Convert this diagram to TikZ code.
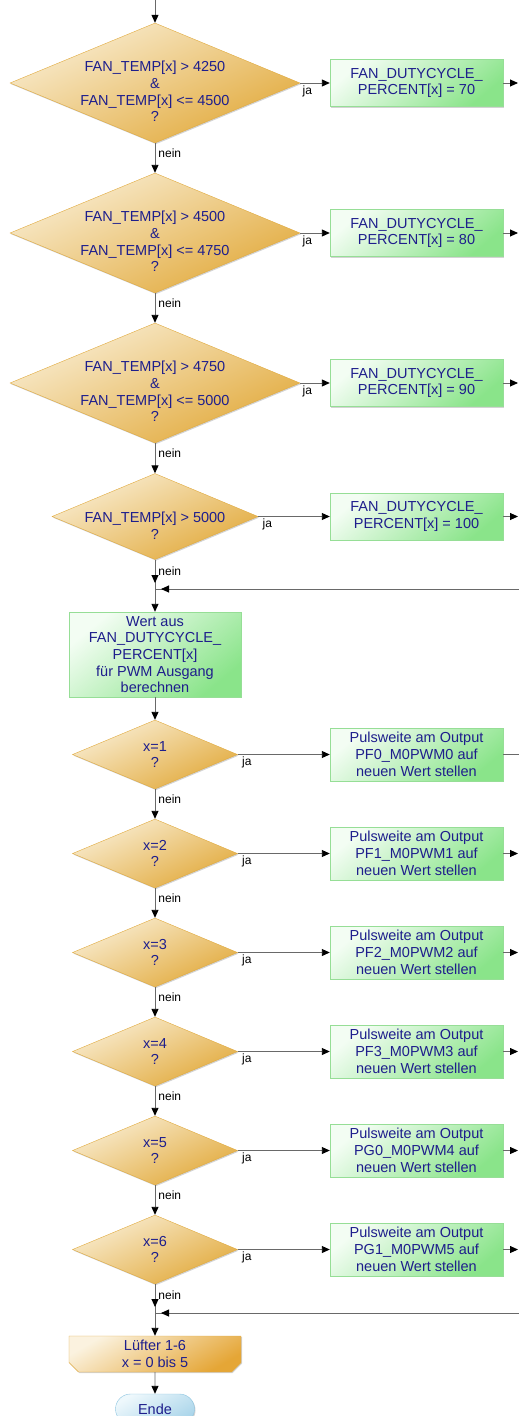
\documentclass[tikz,border=0pt]{standalone}
\usepackage{fontspec}
\setmainfont{Liberation Sans}
\usetikzlibrary{positioning,shapes.geometric,shapes.misc,arrows.meta,shadows}
\definecolor{decisionlight}{RGB}{249,237,210}
\definecolor{decisiondark}{RGB}{226,170,60}
\definecolor{decisionrule}{RGB}{224,170,62}
\definecolor{actionlight}{RGB}{243,253,243}
\definecolor{actiondark}{RGB}{138,228,138}
\definecolor{actionrule}{RGB}{150,222,150}
\definecolor{endlight}{RGB}{238,248,252}
\definecolor{enddark}{RGB}{170,213,234}
\definecolor{endrule}{RGB}{140,196,224}
\definecolor{navytext}{RGB}{30,30,140}
\definecolor{flowgray}{RGB}{105,105,105}

\begin{document}
\begin{tikzpicture}[x=1pt, y=-1pt,
        every node/.style={font=\fontsize{14.5}{16.7}\selectfont, text=navytext},
        shadowed/.style={drop shadow={shadow xshift=1pt, shadow yshift=-1.2pt, fill=black!50, opacity=0.35}},
        decision/.style={diamond, draw=decisionrule, inner sep=0pt, top color=decisionlight, bottom color=decisiondark, shading angle=25, shadowed},
        dtext/.style={align=center, inner sep=0pt},
        actionbox/.style={rectangle, draw=actionrule, align=center, inner sep=0pt, minimum width=173pt, top color=actionlight, bottom color=actiondark, shading angle=40, shadowed},
        loopend/.style={chamfered rectangle, chamfered rectangle corners={south west,south east}, chamfered rectangle xsep=6pt, draw=decisionrule, align=center, inner sep=0pt, minimum width=172pt, minimum height=36pt, top color=decisionlight!70!white, bottom color=decisiondark!90!orange, shading angle=30, shadowed},
        endnode/.style={rounded rectangle, draw=endrule, inner sep=0pt, minimum width=79pt, minimum height=30pt, top color=endlight, bottom color=enddark, shading angle=30, shadowed},
        line/.style={draw=flowgray, line width=0.9pt},
        flow/.style={line, -{Triangle[length=8pt, width=7pt, color=black]}},
        answer/.style={font=\fontsize{12}{14}\selectfont, text=black, inner sep=2pt}]
        \useasboundingbox (0,0) rectangle (519,1416);

        % temperature thresholds
        \coordinate (start) at (155,0);
        \node[decision, minimum width=290pt, minimum height=120pt, label={[dtext, yshift=-8.5pt]center:{FAN\_TEMP[x] > 4250\\\&\\FAN\_TEMP[x] <= 4500\\?}}] (tempone) at (155,83) {};
        \node[decision, minimum width=290pt, minimum height=120pt, label={[dtext, yshift=-8.5pt]center:{FAN\_TEMP[x] > 4500\\\&\\FAN\_TEMP[x] <= 4750\\?}}] (temptwo) at (155,233) {};
        \node[decision, minimum width=290pt, minimum height=120pt, label={[dtext, yshift=-8.5pt]center:{FAN\_TEMP[x] > 4750\\\&\\FAN\_TEMP[x] <= 5000\\?}}] (tempthree) at (155,383) {};
        \node[decision, minimum width=206pt, minimum height=86pt, label={[dtext, yshift=-9.5pt]center:{FAN\_TEMP[x] > 5000\\?}}] (tempfour) at (155,516.5) {};

        \node[actionbox, minimum height=47pt] (dutyone) at (416.5,83) {FAN\_DUTYCYCLE\_\\PERCENT[x] = 70};
        \node[actionbox, minimum height=47pt] (dutytwo) at (416.5,233) {FAN\_DUTYCYCLE\_\\PERCENT[x] = 80};
        \node[actionbox, minimum height=47pt] (dutythree) at (416.5,383) {FAN\_DUTYCYCLE\_\\PERCENT[x] = 90};
        \node[actionbox, minimum height=47pt] (dutyfour) at (416.5,516.5) {FAN\_DUTYCYCLE\_\\PERCENT[x] = 100};

        \coordinate (dutyoneout) at (518,83);
        \coordinate (dutytwoout) at (518,233);
        \coordinate (dutythreeout) at (518,383);
        \coordinate (dutyfourout) at (518,516.5);
        \coordinate (dutyjoin) at (155,589);
        \coordinate (dutyback) at (519,589);

        \node[actionbox, minimum width=172pt, minimum height=85pt] (pwmcalc) at (155,654.5) {Wert aus\\FAN\_DUTYCYCLE\_\\PERCENT[x]\\für PWM Ausgang\\berechnen};

        % one output per fan
        \node[decision, minimum width=165pt, minimum height=69pt, label={[dtext]center:{x=1\\?}}] (fanone) at (155,754.5) {};
        \node[decision, minimum width=165pt, minimum height=69pt, label={[dtext]center:{x=2\\?}}] (fantwo) at (155,853.5) {};
        \node[decision, minimum width=165pt, minimum height=69pt, label={[dtext]center:{x=3\\?}}] (fanthree) at (155,952.5) {};
        \node[decision, minimum width=165pt, minimum height=69pt, label={[dtext]center:{x=4\\?}}] (fanfour) at (155,1051.5) {};
        \node[decision, minimum width=165pt, minimum height=69pt, label={[dtext]center:{x=5\\?}}] (fanfive) at (155,1150.5) {};
        \node[decision, minimum width=165pt, minimum height=69pt, label={[dtext]center:{x=6\\?}}] (fansix) at (155,1249.5) {};

        \node[actionbox, minimum height=53pt] (pwmone) at (416.5,754.5) {Pulsweite am Output\\PF0\_M0PWM0 auf\\neuen Wert stellen};
        \node[actionbox, minimum height=53pt] (pwmtwo) at (416.5,853.5) {Pulsweite am Output\\PF1\_M0PWM1 auf\\neuen Wert stellen};
        \node[actionbox, minimum height=53pt] (pwmthree) at (416.5,952.5) {Pulsweite am Output\\PF2\_M0PWM2 auf\\neuen Wert stellen};
        \node[actionbox, minimum height=53pt] (pwmfour) at (416.5,1051.5) {Pulsweite am Output\\PF3\_M0PWM3 auf\\neuen Wert stellen};
        \node[actionbox, minimum height=53pt] (pwmfive) at (416.5,1150.5) {Pulsweite am Output\\PG0\_M0PWM4 auf\\neuen Wert stellen};
        \node[actionbox, minimum height=53pt] (pwmsix) at (416.5,1249.5) {Pulsweite am Output\\PG1\_M0PWM5 auf\\neuen Wert stellen};

        \coordinate (pwmoneout) at (519,754.5);
        \coordinate (pwmtwoout) at (518,853.5);
        \coordinate (pwmthreeout) at (518,952.5);
        \coordinate (pwmfourout) at (518,1051.5);
        \coordinate (pwmfiveout) at (518,1150.5);
        \coordinate (pwmsixout) at (518,1249.5);
        \coordinate (pwmjoin) at (155,1313);
        \coordinate (pwmback) at (519,1313);

        \node[loopend] (loop) at (155,1354) {Lüfter 1-6\\x = 0 bis 5};
        \node[endnode] (ende) at (155,1409) {Ende};

        % connectors
        \draw[flow] (start) -- (tempone);
        \draw[flow] (tempone) -- node[answer, pos=0.33, anchor=west, xshift=1pt] {nein} (temptwo);
        \draw[flow] (temptwo) -- node[answer, pos=0.33, anchor=west, xshift=1pt] {nein} (tempthree);
        \draw[flow] (tempthree) -- node[answer, pos=0.33, anchor=west, xshift=1pt] {nein} (tempfour);
        \draw[line] (tempfour) -- (dutyjoin);
        \draw[flow, shorten >=6pt] (tempfour) -- node[answer, pos=0.38, anchor=west, xshift=1pt] {nein} (dutyjoin);

        \draw[flow] (tempone) -- node[answer, pos=0, anchor=north west] {ja} (dutyone);
        \draw[flow] (temptwo) -- node[answer, pos=0, anchor=north west] {ja} (dutytwo);
        \draw[flow] (tempthree) -- node[answer, pos=0, anchor=north west] {ja} (dutythree);
        \draw[flow] (tempfour) -- node[answer, pos=0, anchor=north west, xshift=2pt] {ja} (dutyfour);
        \draw[flow] (dutyone) -- (dutyoneout);
        \draw[flow] (dutytwo) -- (dutytwoout);
        \draw[flow] (dutythree) -- (dutythreeout);
        \draw[flow] (dutyfour) -- (dutyfourout);

        \draw[line] (dutyback) -- (dutyjoin);
        \draw[flow, shorten >=6pt] (dutyback) -- (dutyjoin);
        \draw[flow] (dutyjoin) -- (pwmcalc);
        \draw[flow] (pwmcalc) -- (fanone);

        \draw[flow] (fanone) -- node[answer, pos=0.33, anchor=west, xshift=1pt] {nein} (fantwo);
        \draw[flow] (fantwo) -- node[answer, pos=0.33, anchor=west, xshift=1pt] {nein} (fanthree);
        \draw[flow] (fanthree) -- node[answer, pos=0.33, anchor=west, xshift=1pt] {nein} (fanfour);
        \draw[flow] (fanfour) -- node[answer, pos=0.33, anchor=west, xshift=1pt] {nein} (fanfive);
        \draw[flow] (fanfive) -- node[answer, pos=0.33, anchor=west, xshift=1pt] {nein} (fansix);
        \draw[line] (fansix) -- (pwmjoin);
        \draw[flow, shorten >=6pt] (fansix) -- node[answer, pos=0.38, anchor=west, xshift=1pt] {nein} (pwmjoin);

        \draw[flow] (fanone) -- node[answer, pos=0, anchor=north west, xshift=2pt] {ja} (pwmone);
        \draw[flow] (fantwo) -- node[answer, pos=0, anchor=north west, xshift=2pt] {ja} (pwmtwo);
        \draw[flow] (fanthree) -- node[answer, pos=0, anchor=north west, xshift=2pt] {ja} (pwmthree);
        \draw[flow] (fanfour) -- node[answer, pos=0, anchor=north west, xshift=2pt] {ja} (pwmfour);
        \draw[flow] (fanfive) -- node[answer, pos=0, anchor=north west, xshift=2pt] {ja} (pwmfive);
        \draw[flow] (fansix) -- node[answer, pos=0, anchor=north west, xshift=2pt] {ja} (pwmsix);
        \draw[line] (pwmone) -- (pwmoneout);
        \draw[flow] (pwmtwo) -- (pwmtwoout);
        \draw[flow] (pwmthree) -- (pwmthreeout);
        \draw[flow] (pwmfour) -- (pwmfourout);
        \draw[flow] (pwmfive) -- (pwmfiveout);
        \draw[flow] (pwmsix) -- (pwmsixout);

        \draw[line] (pwmback) -- (pwmjoin);
        \draw[flow, shorten >=6pt] (pwmback) -- (pwmjoin);
        \draw[flow] (pwmjoin) -- (loop);
        \draw[flow] (loop) -- (ende);
\end{tikzpicture}
\end{document}
